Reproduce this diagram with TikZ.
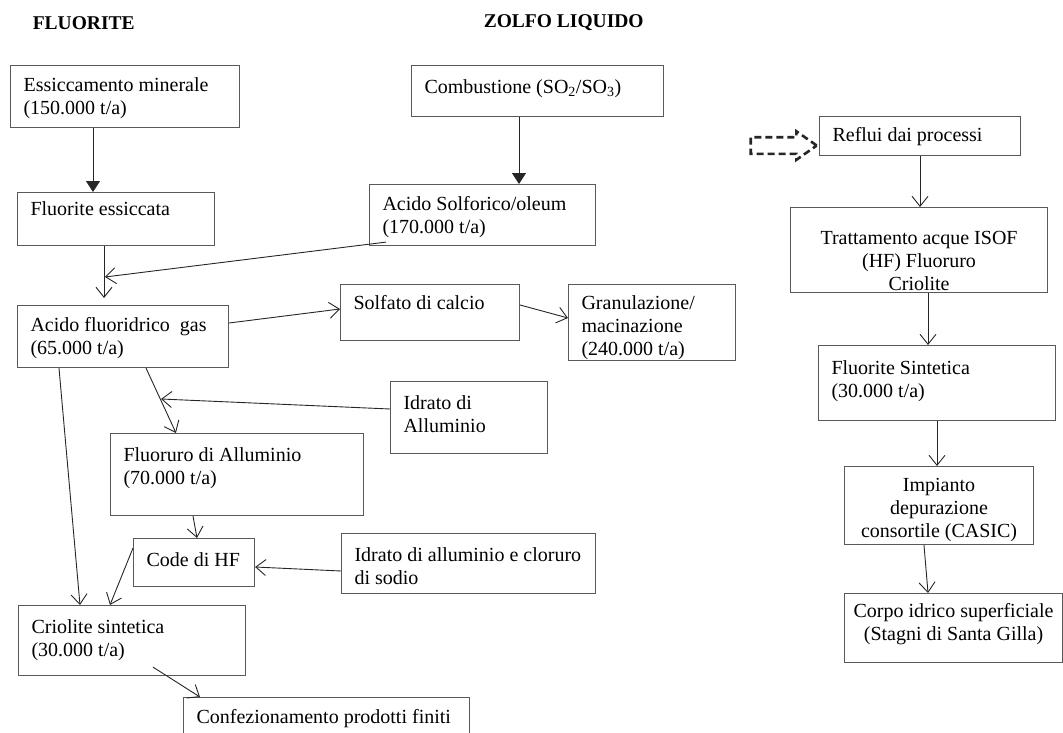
\documentclass[tikz,border=0pt]{standalone}
\usepackage{fontspec}
\setmainfont{Liberation Serif}
\usetikzlibrary{arrows.meta,shapes.arrows}

% box text: [top space]{width}{height}{text}
\newcommand{\inbox}[4][12]{\parbox[t][#3pt][t]{#2pt}{\vspace{#1pt}\leftskip=13pt\rightskip=0pt plus 1fil #4}}

\tikzset{
	box/.style={draw=black!65, line width=1.1pt, anchor=north west, inner sep=0pt},
	title/.style={anchor=west, font=\fontsize{19.5}{22}\selectfont\bfseries},
	inflow/.style={single arrow, draw, line width=2.6pt, dash pattern=on 7pt off 4pt,
		minimum height=66pt, minimum width=26pt, inner sep=7pt,
		single arrow head extend=6pt, single arrow tip angle=70},
}

\begin{document}
\begin{tikzpicture}[x=1pt, y=-1pt, font=\fontsize{20}{23}\selectfont,
	>={Straight Barb[length=10pt,width=16pt]}, line width=0.9pt, draw=black!85]
	\useasboundingbox (0,0) rectangle (1063,733);

	\node[title] at (29,23) (t1) {FLUORITE};
	\node[title] at (480,23) (t2) {ZOLFO LIQUIDO};

	\node[box] at (10,65) (ess) {\inbox{229}{62}{Essiccamento minerale\\(150.000 t/a)}};
	\node[box] at (17,192) (fesc) {\inbox[9]{197}{53}{Fluorite essiccata}};
	\node[box] at (411,65) (comb) {\inbox[14]{252}{51}{Combustione (SO\textsubscript{2}/SO\textsubscript{3})}};
	\node[box] at (369,184) (solf) {\inbox{226}{61}{Acido Solforico/oleum\\(170.000 t/a)}};
	\node[box] at (17,305) (hf) {\inbox{211}{62}{Acido fluoridrico\ \ gas\\(65.000 t/a)}};
	\node[box] at (340,284) (caso) {\inbox[11]{179}{56}{Solfato di calcio}};
	\node[box] at (568,284) (gran) {\inbox[11]{167}{76}{Granulazione/\\macinazione\\(240.000 t/a)}};
	\node[box] at (390,381) (idr) {\inbox[14]{157}{72}{Idrato di\\Alluminio}};
	\node[box] at (110,433) (alf) {\inbox[14]{253}{82}{Fluoruro di Alluminio\\(70.000 t/a)}};
	\node[box] at (133,538) (code) {\inbox[14]{121}{48}{Code di HF}};
	\node[box] at (341,533) (idrcl) {\inbox[14]{254}{60}{Idrato di alluminio e cloruro\\di sodio}};
	\node[box] at (18,605) (crio) {\inbox[14]{227}{70}{Criolite sintetica\\(30.000 t/a)}};
	\node[box] at (183,697) (conf) {\inbox{286}{60}{Confezionamento prodotti finiti}};

	\node[box] at (819,116) (refl) {\inbox[11]{201}{39}{Reflui dai processi}};
	\node[box] at (790,207) (tratt) {\inbox[24]{257}{85}{\centering Trattamento acque ISOF\\(HF) Fluoruro\\Criolite}};
	\node[box] at (818,345) (fsint) {\inbox[15]{237}{75}{Fluorite Sintetica\\(30.000 t/a)}};
	\node[box] at (844,466) (imp) {\inbox[12]{189}{78}{\centering Impianto\\depurazione\\consortile (CASIC)}};
	\node[box] at (844,593) (corpo) {\inbox[10]{218}{69}{\centering Corpo idrico superficiale\\(Stagni di Santa Gilla)}};
	\node[inflow, anchor=tip] at ([yshift=-9.5pt]refl.west) (in) {};

	\draw[-{Triangle[width=14pt,length=11pt]}] ([xshift=83pt]ess.south west) to ([xshift=76pt]fesc.north west);
	\draw[-{Triangle[width=14pt,length=11pt]}] ([xshift=108pt]comb.south west) to ([xshift=150pt]solf.north west);
	\draw[->] ([xshift=87pt]fesc.south west) to ([shift={(87pt,7pt)}]hf.north west);
	\draw[->] ([shift={(17pt,4pt)}]solf.south west) to ([shift={(88pt,28pt)}]hf.north west);
	\draw[->] ([yshift=-18pt]hf.north east) to ([yshift=-25pt]caso.north west);
	\draw[->] ([yshift=-21pt]caso.north east) to ([yshift=-34pt]gran.north west);
	\draw[->] ([xshift=129pt]hf.south west) to ([xshift=66pt]alf.north west);
	\draw[->] ([yshift=-28pt]idr.north west) to ([shift={(51pt,34pt)}]alf.north west);
	\draw[->] ([xshift=42pt]hf.south west) to ([xshift=62pt]crio.north west);
	\draw[->] ([xshift=83pt]alf.south west) to ([xshift=64pt]code.north west);
	\draw[->] ([yshift=-38pt]idrcl.north west) to ([yshift=-29pt]code.north east);
	\draw[->] ([yshift=-10pt]code.north west) to ([xshift=92pt]crio.north west);
	\draw[->] ([shift={(135pt,9pt)}]crio.south west) to ([xshift=17pt]conf.north west);

	\draw[->] ([xshift=101pt]refl.south west) to ([xshift=130pt]tratt.north west);
	\draw[->] ([xshift=138pt]tratt.south west) to ([xshift=110pt]fsint.north west);
	\draw[->] ([xshift=119pt]fsint.south west) to ([xshift=93pt]imp.north west);
	\draw[->] ([xshift=80pt]imp.south west) to ([xshift=84pt]corpo.north west);
\end{tikzpicture}
\end{document}
